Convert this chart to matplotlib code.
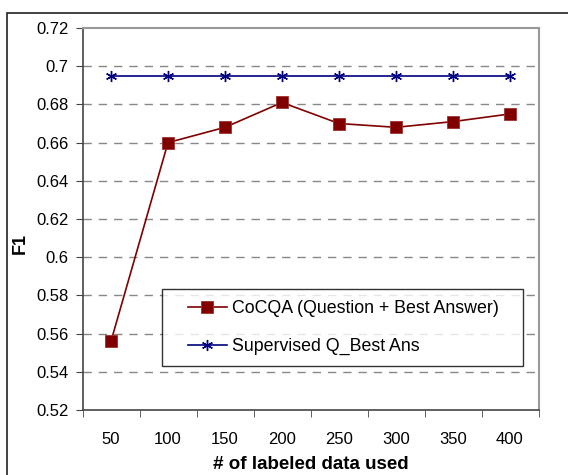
import numpy as np
import matplotlib.pyplot as plt
from matplotlib.patches import Rectangle
from matplotlib.lines import Line2D
from matplotlib.legend_handler import HandlerLine2D

plt.rcParams['font.family'] = ['Liberation Sans', 'DejaVu Sans']

# chart values
labeled = ['50', '100', '150', '200', '250', '300', '350', '400']
cocqa = [0.556, 0.660, 0.668, 0.681, 0.670, 0.668, 0.671, 0.675]
supervised = [0.695, 0.695, 0.695, 0.695, 0.695, 0.695, 0.695, 0.695]
yticks = [0.52, 0.54, 0.56, 0.58, 0.6, 0.62, 0.64, 0.66, 0.68, 0.7, 0.72]
ytick_labels = ['0.52', '0.54', '0.56', '0.58', '0.6', '0.62', '0.64',
                '0.66', '0.68', '0.7', '0.72']


def main():
    fig = plt.figure(figsize=(5.68, 4.75), dpi=100)
    W, H = 568, 475
    # outer chart frame (clipped at right and bottom like the reference)
    fig.patches.append(Rectangle((7 / W, -0.1), 1.2, (475 - 13) / H + 0.1,
                                 transform=fig.transFigure, fill=False,
                                 edgecolor='#222222', linewidth=1.2))

    left, right, top, bottom = 82.5, 538.5, 28, 410
    ax = fig.add_axes([left / W, (H - bottom) / H, (right - left) / W, (bottom - top) / H])

    x = np.arange(len(labeled))
    ax.plot(x, cocqa, color='#800000', linewidth=1.2, marker='s', markersize=9,
            markerfacecolor='#800000', markeredgecolor='#a03030', markeredgewidth=0.6,
            label='CoCQA (Question + Best Answer)', zorder=3)
    ax.plot(x, supervised, color='#000080', linewidth=1.2, marker=(6, 2, 0), markersize=8,
            markeredgecolor='#000080', markeredgewidth=1.0,
            label='Supervised Q_Best Ans', zorder=3)

    ax.set_xlim(-0.5, len(labeled) - 0.5)
    ax.set_ylim(0.52, 0.72)
    ax.set_yticks(yticks)
    ax.set_yticklabels(ytick_labels)
    ax.set_xticks(x)
    ax.set_xticklabels(labeled)
    ax.set_xticks(np.arange(len(labeled) + 1) - 0.5, minor=True)
    ax.tick_params(axis='x', which='major', length=0, pad=16, labelsize=12)
    ax.tick_params(axis='x', which='minor', length=5, direction='out', color='#444444')
    ax.tick_params(axis='y', length=5, direction='out', color='#444444', labelsize=12, pad=5)

    for y in yticks[1:-1]:
        ax.axhline(y, color='#888888', linewidth=1.0, linestyle=(0, (6, 5)), zorder=1)

    ax.spines['left'].set_color('#444444')
    ax.spines['bottom'].set_color('#444444')
    ax.spines['left'].set_linewidth(1.2)
    ax.spines['bottom'].set_linewidth(1.2)
    ax.spines['top'].set_color('#999999')
    ax.spines['right'].set_color('#999999')
    ax.spines['top'].set_linewidth(1.5)
    ax.spines['right'].set_linewidth(1.5)

    ax.set_xlabel('# of labeled data used', fontsize=13.5, fontweight='bold', labelpad=6)
    ax.set_ylabel('F1', fontsize=13, fontweight='bold')
    ax.yaxis.set_label_coords(-0.118, 0.435)

    aw, ah = right - left, bottom - top
    leg = ax.legend(loc='lower left',
                    bbox_to_anchor=((162 - left) / aw, (bottom - 366) / ah,
                                    (523 - 162) / aw, (366 - 287) / ah),
                    mode='expand', frameon=True, fancybox=False, fontsize=12.8,
                    handlelength=3.05, handletextpad=0.28, borderpad=0.6,
                    labelspacing=1.2, borderaxespad=0,
                    handler_map={Line2D: HandlerLine2D(xpad=0.86)})
    leg.get_frame().set_edgecolor('black')
    leg.get_frame().set_linewidth(1.0)

    fig.savefig('out.png', dpi=100)


if __name__ == '__main__':
    main()
